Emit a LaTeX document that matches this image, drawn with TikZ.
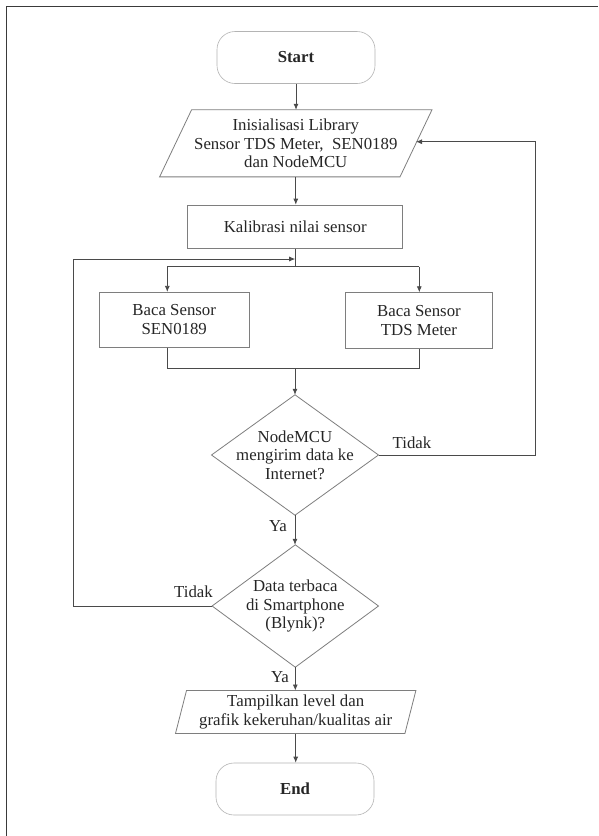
\documentclass[tikz,border=0pt]{standalone}
\usepackage{fontspec}
\setmainfont{Liberation Serif}
\usetikzlibrary{arrows.meta}
\definecolor{txt}{HTML}{262626}
\definecolor{connc}{HTML}{4A4A4A}
\definecolor{boxc}{HTML}{7E7E7E}
\definecolor{termc}{HTML}{B4B4B4}
\definecolor{framec}{HTML}{3A3A3A}
\begin{document}
\begin{tikzpicture}[x=1pt,y=-1pt,
  every node/.style={text=txt, font=\fontsize{16.8}{18.6}\selectfont, align=center, inner sep=0pt},
  term/.style={draw=termc, line width=0.6pt, rounded corners=18pt, minimum width=158pt, minimum height=52pt, font=\bfseries\fontsize{16.8}{18.6}\selectfont},
  proc/.style={draw=boxc, line width=0.8pt},
  ghost/.style={draw=none},
  conn/.style={draw=connc, line width=0.8pt},
  arr/.style={conn, -{Latex[length=6pt,width=5pt]}}
]
\useasboundingbox (0,0) rectangle (598,836);
\fill[white] (0,0) rectangle (598,836);
\draw[color=framec, line width=1.6pt] (6.3,836) -- (6.3,6.3) -- (598,6.3);

% nodes
\node[term] (start) at (296,57.5) {Start};
\node[ghost, minimum width=240pt, minimum height=66.7pt] (init) at (295.8,143.3) {Inisialisasi Library\\Sensor TDS Meter,~ SEN0189\\dan NodeMCU};
\draw[proc] ([xshift=16pt]init.north west) -- ([xshift=16pt]init.north east) -- ([xshift=-16pt]init.south east) -- ([xshift=-16pt]init.south west) -- cycle;
\node[proc, minimum width=215pt, minimum height=43.3pt] (kal) at (295.2,226.7) {Kalibrasi nilai sensor};
\node[proc, minimum width=149.7pt, minimum height=55pt] (bacaL) at (174.2,319.8) {Baca Sensor\\SEN0189};
\node[proc, minimum width=146.6pt, minimum height=55.6pt] (bacaR) at (419,320.5) {Baca Sensor\\TDS Meter};
\node[ghost, minimum width=166.6pt, minimum height=120pt] (d1) at (295,455) {NodeMCU\\mengirim data ke\\Internet?};
\draw[proc] (d1.north) -- (d1.east) -- (d1.south) -- (d1.west) -- cycle;
\node[ghost, minimum width=166pt, minimum height=122pt] (d2) at (295.3,606) {Data terbaca\\di Smartphone\\(Blynk)?};
\draw[proc] (d2.north) -- (d2.east) -- (d2.south) -- (d2.west) -- cycle;
\node[ghost, minimum width=229pt, minimum height=42.6pt] (out) at (295.7,712) {Tampilkan level dan\\grafik kekeruhan/kualitas air};
\draw[proc] ([xshift=5.5pt]out.north west) -- ([xshift=5.5pt]out.north east) -- ([xshift=-5.5pt]out.south east) -- ([xshift=-5.5pt]out.south west) -- cycle;
\node[term] (end) at (295,789) {End};

% labels
\node (t1) at (412,443) {Tidak};
\node (y1) at (278,526) {Ya};
\node (t2) at (193.5,591.7) {Tidak};
\node (y2) at (280,676.7) {Ya};

% connectors
\draw[arr] (start.south) -- (start.south |- init.north);
\draw[arr] (init.south) -- (init.south |- kal.north);
\coordinate (sL) at (167.3,266.7);
\coordinate (sR) at (419.3,266.7);
\draw[conn] (kal.south) -- (kal.south |- sL);
\draw[conn] (sL) -- (sR);
\draw[arr] (sL) -- (sL |- bacaL.north);
\draw[arr] (sR) -- (sR |- bacaR.north);
\coordinate (mL) at (167.3,368.3);
\coordinate (mR) at (419.3,368.3);
\draw[conn] (mL |- bacaL.south) -- (mL) -- (mR) -- (mR |- bacaR.south);
\draw[arr] (d1.north |- mL) -- (d1.north);
\draw[arr] (d1.south) -- (d1.south |- d2.north);
\draw[arr] (d2.south) -- (d2.south |- out.north);
\draw[arr] (out.south) -- (out.south |- end.north);
\coordinate (fr) at (535.7,141.7);
\draw[arr] (d1.east) -| (fr) -- (fr -| init.east);
\coordinate (fl) at (73.3,259);
\draw[arr] (d2.west) -| (fl) -- (fl -| kal.south);
\end{tikzpicture}
\end{document}
